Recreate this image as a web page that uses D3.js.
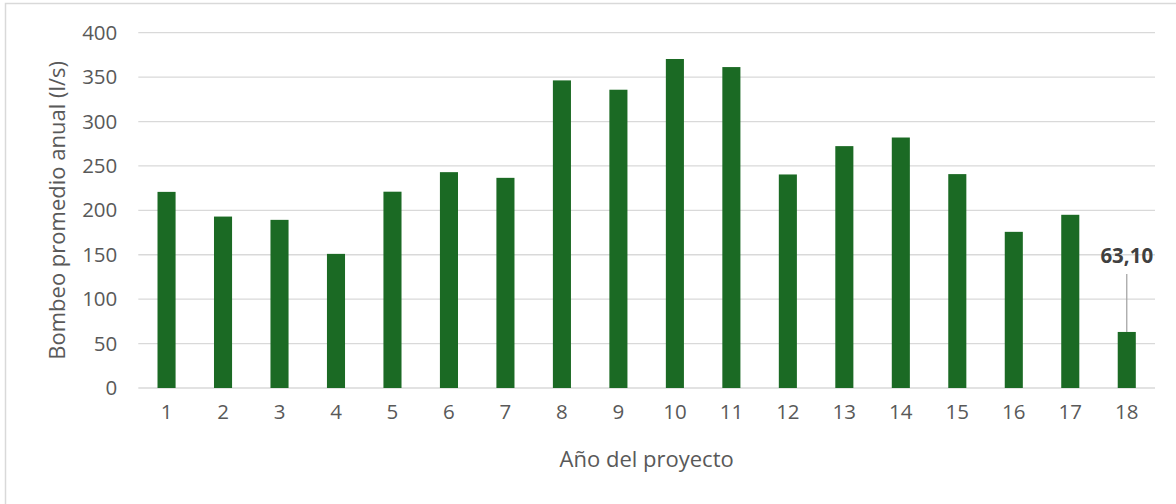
<!DOCTYPE html>
<html>
<head>
<meta charset="utf-8">
<script src="https://cdn.jsdelivr.net/npm/d3@7"></script>
<style>
  html, body { margin: 0; padding: 0; background: #fff; }
  svg { display: block; }
  .tick text { font-family: "Open Sans", Arial, sans-serif; font-size: 20.5px; fill: #595959; }
</style>
</head>
<body>
<div id="chart"></div>
<script>
const years = ["1","2","3","4","5","6","7","8","9","10","11","12","13","14","15","16","17","18"];
const bombeo = [220.8, 193, 189.3, 151, 221, 243, 236.6, 346.3, 335.8, 370.4, 361.3, 240.4, 272.3, 282, 240.8, 175.8, 195, 63.1];
const y_ticks = [0, 50, 100, 150, 200, 250, 300, 350, 400];
const label_year = "18";
const label_text = "63,10";

const W = 1176, H = 504;
const margin = {left: 138.3, right: 21, top: 32.7, bottom: 116};
const font = "'Open Sans', Arial, sans-serif";

const svg = d3.select("#chart").append("svg")
  .attr("width", W).attr("height", H);

// chart area border (only top/left visible in the crop)
svg.append("rect")
  .attr("x", 5.5).attr("y", 3.5)
  .attr("width", W + 20).attr("height", H + 20)
  .attr("fill", "#fff")
  .attr("stroke", "#d9d9d9")
  .attr("stroke-width", 1.5);

const x = d3.scaleBand()
  .domain(years)
  .range([margin.left, W - margin.right])
  .paddingInner(0.68)
  .paddingOuter(0.34);

const y = d3.scaleLinear()
  .domain([0, 400])
  .range([388, margin.top]);

// gridlines
svg.append("g")
  .selectAll("line")
  .data(y_ticks)
  .join("line")
    .attr("x1", margin.left)
    .attr("x2", W - margin.right)
    .attr("y1", d => y(d))
    .attr("y2", d => y(d))
    .attr("stroke", "#d9d9d9")
    .attr("stroke-width", 1.3);

// y axis
const y_axis = svg.append("g")
  .attr("transform", `translate(${margin.left},0)`)
  .call(d3.axisLeft(y).tickValues(y_ticks).tickSize(0).tickPadding(21));
y_axis.select(".domain").remove();

// bars
svg.append("g")
  .selectAll("rect")
  .data(years)
  .join("rect")
    .attr("x", d => x(d))
    .attr("width", x.bandwidth())
    .attr("y", (d, i) => y(bombeo[i]))
    .attr("height", (d, i) => y(0) - y(bombeo[i]))
    .attr("fill", "#1b6a24");

// x axis
const x_axis = svg.append("g")
  .attr("transform", `translate(0,${y(0)})`)
  .call(d3.axisBottom(x).tickSize(0).tickPadding(16));
x_axis.select(".domain").remove();

// axis titles
svg.append("text")
  .attr("x", (margin.left + W - margin.right) / 2)
  .attr("y", 467)
  .attr("text-anchor", "middle")
  .style("font-family", font)
  .style("font-size", "22px")
  .attr("fill", "#595959")
  .text("Año del proyecto");

svg.append("text")
  .attr("transform", `translate(65,${y(200)}) rotate(-90)`)
  .attr("text-anchor", "middle")
  .style("font-family", font)
  .style("font-size", "22px")
  .attr("fill", "#595959")
  .text("Bombeo promedio anual (l/s)");

// data label with leader line
const li = years.indexOf(label_year);
const lx = x(label_year) + x.bandwidth() / 2;
svg.append("line")
  .attr("x1", lx).attr("x2", lx)
  .attr("y1", 274).attr("y2", y(bombeo[li]))
  .attr("stroke", "#a6a6a6")
  .attr("stroke-width", 1.3);
svg.append("text")
  .attr("x", lx)
  .attr("y", 263)
  .attr("text-anchor", "middle")
  .style("font-family", font)
  .style("font-size", "20.5px")
  .style("font-weight", "bold")
  .attr("fill", "#404040")
  .text(label_text);
</script>
</body>
</html>
